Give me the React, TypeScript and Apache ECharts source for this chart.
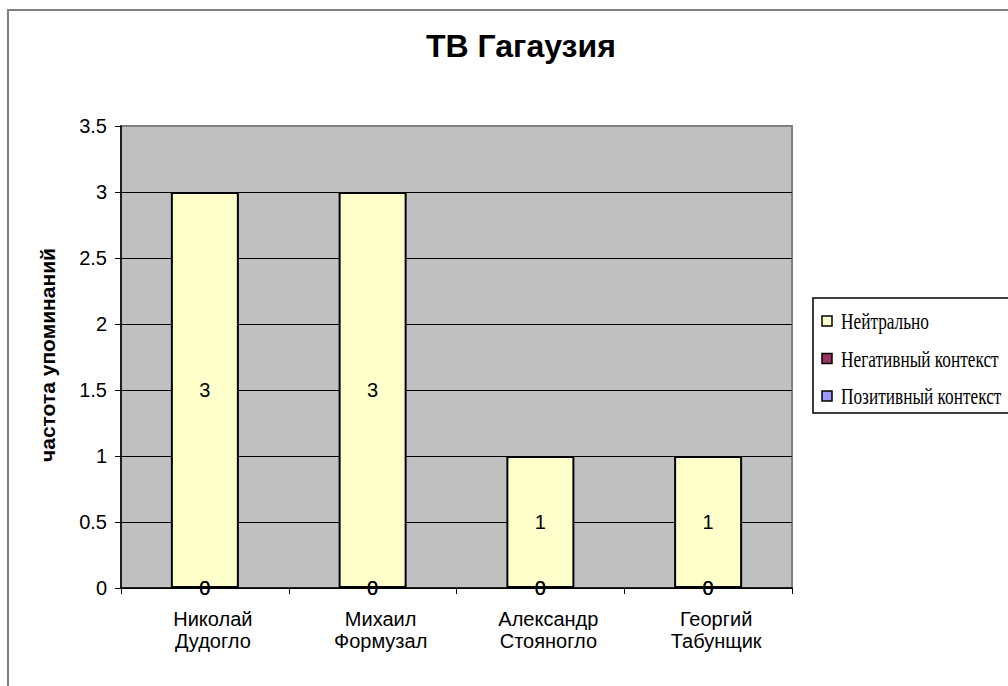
import React, { useEffect, useRef } from "react";
import * as echarts from "echarts";

const categories = ["Николай\nДудогло", "Михаил\nФормузал", "Александр\nСтояногло", "Георгий\nТабунщик"];
const neutral = [3, 3, 1, 1];
const negative = [0, 0, 0, 0];
const positive = [0, 0, 0, 0];
const seriesNames = ["Нейтрально", "Негативный контекст", "Позитивный контекст"];
const seriesColors = ["#ffffcc", "#993366", "#9999ff"];
const yTicks = { min: 0, max: 3.5, interval: 0.5 };
const titleText = "ТВ Гагаузия";
const yName = "частота упоминаний";

export default function App() {
  const ref = useRef<HTMLDivElement>(null);
  useEffect(() => {
    if (!ref.current) return;
    const chart = echarts.init(ref.current, null, { renderer: "svg" });
    const labelStyle = {
      show: true,
      position: "inside",
      color: "#000",
      fontSize: 20,
      fontFamily: "Liberation Sans, Arial",
    };
    const barBase = {
      type: "bar",
      stack: "total",
      barWidth: 68,
      label: labelStyle,
    };
    const legendItems: any[] = [];
    seriesNames.forEach((name, i) => {
      const cy = 321 + i * 37.5;
      legendItems.push({
        type: "rect",
        shape: { x: 822, y: cy - 5, width: 10, height: 10 },
        style: { fill: seriesColors[i], stroke: "#000", lineWidth: 1.5 },
        silent: true,
        z: 10,
      });
      legendItems.push({
        type: "text",
        x: 841,
        y: cy,
        scaleX: 0.72,
        style: {
          text: name,
          fontSize: 24,
          fontFamily: "Liberation Serif, Times New Roman",
          fill: "#000",
          align: "left",
          verticalAlign: "middle",
        },
        silent: true,
        z: 10,
      });
    });
    chart.setOption({
      animation: false,
      backgroundColor: "#fff",
      title: {
        text: titleText,
        left: 426,
        top: 30,
        padding: 0,
        textStyle: { fontSize: 32, fontWeight: "bold", fontFamily: "Liberation Sans, Arial", color: "#000" },
      },
      graphic: [
        { type: "rect", shape: { x: 8, y: 10, width: 1200, height: 1000 }, style: { fill: "none", stroke: "#808080", lineWidth: 2 }, silent: true, z: -10 },
        { type: "rect", shape: { x: 813, y: 298, width: 300, height: 115 }, style: { fill: "#fff", stroke: "#000", lineWidth: 1.5 }, silent: true, z: 9 },
        ...legendItems,
        {
          type: "text",
          x: 47,
          y: 355,
          rotation: Math.PI / 2,
          style: {
            text: yName,
            fontSize: 21,
            fontWeight: "bold",
            fontFamily: "Liberation Sans, Arial",
            fill: "#000",
            align: "center",
            verticalAlign: "middle",
          },
        },
      ],
      legend: { show: false, data: seriesNames },
      grid: {
        left: 121,
        right: 216,
        top: 126,
        bottom: 98,
        show: true,
        backgroundColor: "#c0c0c0",
        borderColor: "#808080",
        borderWidth: 2,
      },
      xAxis: {
        type: "category",
        data: categories,
        axisLine: { lineStyle: { color: "#000", width: 1.5 } },
        axisTick: { show: true, alignWithLabel: false, length: 6, lineStyle: { color: "#000" } },
        axisLabel: {
          color: "#000",
          fontSize: 20,
          lineHeight: 22,
          margin: 20,
          padding: [0, 0, 0, 16],
          fontFamily: "Liberation Sans, Arial",
        },
      },
      yAxis: {
        type: "value",
        min: yTicks.min,
        max: yTicks.max,
        interval: yTicks.interval,
        axisLine: { show: true, lineStyle: { color: "#000", width: 1.5 } },
        axisTick: { show: true, length: 6, lineStyle: { color: "#000" } },
        axisLabel: { color: "#000", fontSize: 20, margin: 14, fontFamily: "Liberation Sans, Arial" },
        splitLine: { show: true, showMaxLine: false, lineStyle: { color: "#000", width: 1 } },
      },
      series: [
        { ...barBase, name: seriesNames[2], data: positive, itemStyle: { color: seriesColors[2], borderColor: "#000", borderWidth: 1.5 } },
        { ...barBase, name: seriesNames[1], data: negative, itemStyle: { color: seriesColors[1], borderColor: "#000", borderWidth: 1.5 } },
        { ...barBase, name: seriesNames[0], data: neutral, itemStyle: { color: seriesColors[0], borderColor: "#000", borderWidth: 2 } },
      ],
    });
    return () => chart.dispose();
  }, []);
  return <div ref={ref} style={{ width: 1008, height: 686, position: "absolute", left: 0, top: 0 }} />;
}
